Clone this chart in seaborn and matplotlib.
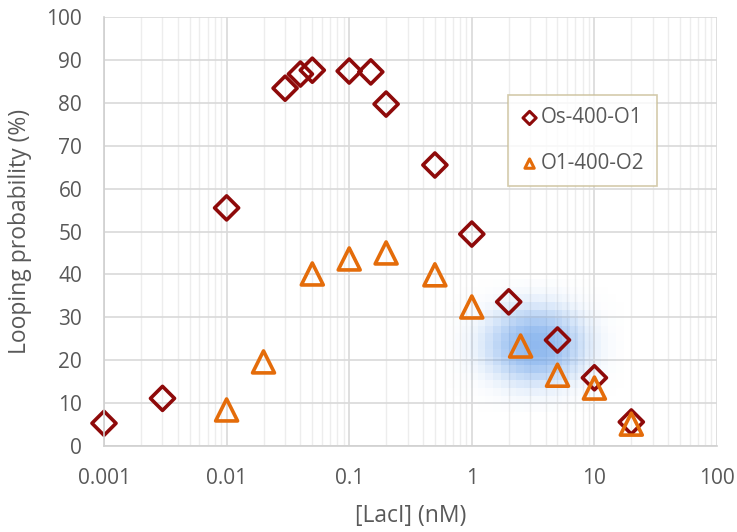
import numpy as np
import pandas as pd
import matplotlib
matplotlib.use("Agg")
import matplotlib.pyplot as plt
from matplotlib.ticker import FixedLocator, FuncFormatter, NullFormatter
import seaborn as sns

# Looping probability vs. LacI concentration for two loop constructs
os_conc = [0.001, 0.003, 0.01, 0.03, 0.04, 0.05, 0.1, 0.15, 0.2, 0.5, 1, 2, 5, 10, 20]
os_loop = [5.3, 11.1, 55.5, 83.4, 86.7, 87.6, 87.4, 87.2, 79.7, 65.5, 49.4, 33.6, 24.7, 15.9, 5.6]

o1_conc = [0.01, 0.02, 0.05, 0.1, 0.2, 0.5, 1, 2.5, 5, 10, 20]
o1_loop = [8.4, 19.6, 40.1, 43.6, 45.0, 39.9, 32.4, 23.3, 16.5, 13.5, 5.1]

series_names = ["Os-400-O1", "O1-400-O2"]
x_ticks = [0.001, 0.01, 0.1, 1, 10, 100]
y_ticks = [0, 10, 20, 30, 40, 50, 60, 70, 80, 90, 100]

df_os = pd.DataFrame({"conc": os_conc, "loop": os_loop})
df_o1 = pd.DataFrame({"conc": o1_conc, "loop": o1_loop})

sns.set_theme(style="white")
plt.rcParams["font.family"] = ["Open Sans", "DejaVu Sans"]
text_col = "#595959"

fig = plt.figure(figsize=(7.37, 5.32), dpi=100)
ax = fig.add_axes([104 / 737, 1 - 446 / 532, (717 - 104) / 737, (446 - 17) / 532])
ax.set_xscale("log")
ax.set_xlim(0.001, 100)
ax.set_ylim(0, 100)

# soft blue highlight, built from coarse cells
cx, cy = np.log10(3.3), 23.5
hx, hy = 0.56, 12.5
ex = np.linspace(cx - 0.72, cx + 0.72, 24)
ey = np.linspace(cy - 15.5, cy + 15.5, 18)
mx = 0.5 * (ex[:-1] + ex[1:])
my = 0.5 * (ey[:-1] + ey[1:])
GX, GY = np.meshgrid(mx, my)
d2 = ((GX - cx) / hx) ** 2 + ((GY - cy) / hy) ** 2
alpha = 0.68 * np.exp(-2.3 * d2 ** 1.25)
rgba = np.zeros(alpha.shape + (4,))
rgba[..., 0], rgba[..., 1], rgba[..., 2] = 0.36, 0.60, 0.91
rgba[..., 3] = alpha
EX, EY = np.meshgrid(10 ** ex, ey)
mesh = ax.pcolormesh(EX, EY, np.zeros_like(alpha), shading="flat", zorder=1.5)
mesh.set_array(None)
mesh.set_facecolor(rgba.reshape(-1, 4))
mesh.set_edgecolor("face")
mesh.set_linewidth(0)

sns.scatterplot(data=df_os, x="conc", y="loop", ax=ax, marker="D", s=150,
                facecolor="none", edgecolor="#8E0A0A", linewidth=2.6,
                label=series_names[0], zorder=2, clip_on=False)
sns.scatterplot(data=df_o1, x="conc", y="loop", ax=ax, marker="^", s=250,
                facecolor="none", edgecolor="#E46C0A", linewidth=2.6,
                label=series_names[1], zorder=3, clip_on=False)

# grid and axes
ax.set_axisbelow(True)
ax.xaxis.set_major_locator(FixedLocator(x_ticks))
minor = [m * 10.0 ** e for e in range(-3, 2) for m in range(2, 10)]
ax.xaxis.set_minor_locator(FixedLocator(minor))
ax.xaxis.set_minor_formatter(NullFormatter())
ax.xaxis.set_major_formatter(FuncFormatter(lambda v, p: f"{v:g}"))
ax.set_yticks(y_ticks)
ax.yaxis.set_minor_locator(FixedLocator(np.arange(0, 101, 2)))
ax.grid(True, which="major", axis="both", color="#d9d9d9", linewidth=1.2)
ax.grid(True, which="minor", axis="x", color="#ededed", linewidth=1.0)

for side in ["top", "right"]:
    ax.spines[side].set_visible(False)
for side in ["left", "bottom"]:
    ax.spines[side].set_color("#d0d0d0")
    ax.spines[side].set_linewidth(1.2)

ax.tick_params(axis="both", which="major", direction="inout", length=9.5, width=1.2,
               color="#d0d0d0", labelsize=15, labelcolor=text_col)
ax.tick_params(axis="both", which="minor", direction="in", length=4.5, width=1.0,
               color="#d0d0d0")
ax.tick_params(axis="y", which="major", pad=11)
ax.tick_params(axis="x", which="major", pad=11)

ax.set_xlabel("[LacI] (nM)", fontsize=16.5, color=text_col, labelpad=11)
ax.set_ylabel("Looping probability (%)", fontsize=16.5, color=text_col, labelpad=10)

leg = ax.legend(loc="upper left", bbox_to_anchor=((508 - 104) / 613, 1 - (95 - 17) / 429),
                frameon=True, fontsize=14.8, labelspacing=1.2, handletextpad=0.1,
                handlelength=0.9, borderpad=0.6, borderaxespad=0, fancybox=False)
leg.get_frame().set_edgecolor("#c9be97")
leg.get_frame().set_linewidth(1.2)
for t in leg.get_texts():
    t.set_color(text_col)
for h in leg.legend_handles:
    h.set_sizes([45])
    h.set_linewidth(2.2)

fig.savefig("out.png", dpi=100)
